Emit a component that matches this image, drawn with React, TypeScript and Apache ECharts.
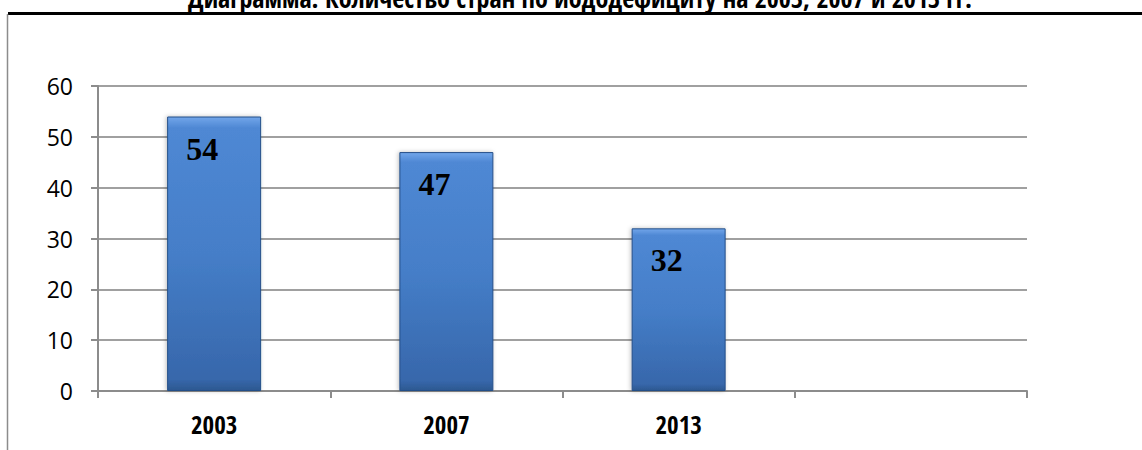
import React, { useEffect, useRef } from "react";
import * as echarts from "echarts";

const titleText = "Диаграмма. Количество стран по йододефициту на 2003, 2007 и 2013 гг.";
const categories = ["2003", "2007", "2013", ""];
const values = [54, 47, 32];
const yTicks = { min: 0, max: 60, interval: 10 };

const narrow = "'Open Sans Condensed', 'Roboto Condensed', 'Liberation Sans', sans-serif";

export default function App() {
  const ref = useRef<HTMLDivElement>(null);
  useEffect(() => {
    document.body.style.margin = "0";
    const chart = echarts.init(ref.current!, null, { renderer: "svg" });
    chart.setOption({
      animation: false,
      backgroundColor: "#ffffff",
      grid: { left: 98, right: 115, top: 86, bottom: 59 },
      graphic: [
        {
          type: "text",
          x: 580,
          y: 11,
          style: {
            text: titleText,
            fontFamily: narrow,
            fontWeight: "bold",
            fontSize: 26,
            fill: "#000",
            align: "center",
            verticalAlign: "bottom",
          },
        },
        {
          type: "line",
          shape: { x1: 8, y1: 13.5, x2: 1142, y2: 13.5 },
          style: { stroke: "#000", lineWidth: 3 },
        },
        {
          type: "line",
          shape: { x1: 7.5, y1: 14, x2: 7.5, y2: 450 },
          style: { stroke: "#8c8c8c", lineWidth: 1.5 },
        },
      ],
      xAxis: {
        type: "category",
        data: categories,
        axisLine: { show: true, lineStyle: { color: "#8c8c8c", width: 2 } },
        axisTick: { show: true, length: 7, alignWithLabel: false, lineStyle: { color: "#8c8c8c", width: 2 } },
        axisLabel: {
          fontFamily: narrow,
          fontWeight: "bold",
          fontSize: 25,
          color: "#000",
          margin: 20,
        },
      },
      yAxis: {
        type: "value",
        min: yTicks.min,
        max: yTicks.max,
        interval: yTicks.interval,
        axisLine: { show: true, lineStyle: { color: "#8c8c8c", width: 2 } },
        axisTick: { show: true, length: 7, lineStyle: { color: "#8c8c8c", width: 2 } },
        splitLine: { show: true, lineStyle: { color: "#a0a0a0", width: 2 } },
        axisLabel: {
          fontFamily: "'Open Sans', 'Noto Sans', sans-serif",
          fontSize: 23,
          color: "#000",
          margin: 25,
        },
      },
      series: [
        {
          type: "bar",
          data: values,
          barWidth: 94,
          itemStyle: {
            borderColor: "#244f88",
            borderWidth: 1,
            shadowColor: "rgba(0,0,0,0.25)",
            shadowBlur: 4,
            shadowOffsetX: -1,
            color: new echarts.graphic.LinearGradient(0, 0, 0, 1, [
              { offset: 0, color: "#72a6ea" },
              { offset: 0.04, color: "#4f88d4" },
              { offset: 0.5, color: "#457ec8" },
              { offset: 0.96, color: "#3767ab" },
              { offset: 1, color: "#2c5890" },
            ]),
          },
          label: {
            show: true,
            position: "insideTop",
            distance: 16,
            offset: [-12, 0],
            fontFamily: "'Liberation Serif', 'Times New Roman', serif",
            fontWeight: "bold",
            fontSize: 32,
            color: "#000",
          },
        },
      ],
    });
    return () => chart.dispose();
  }, []);
  return <div ref={ref} style={{ width: 1142, height: 450 }} />;
}
